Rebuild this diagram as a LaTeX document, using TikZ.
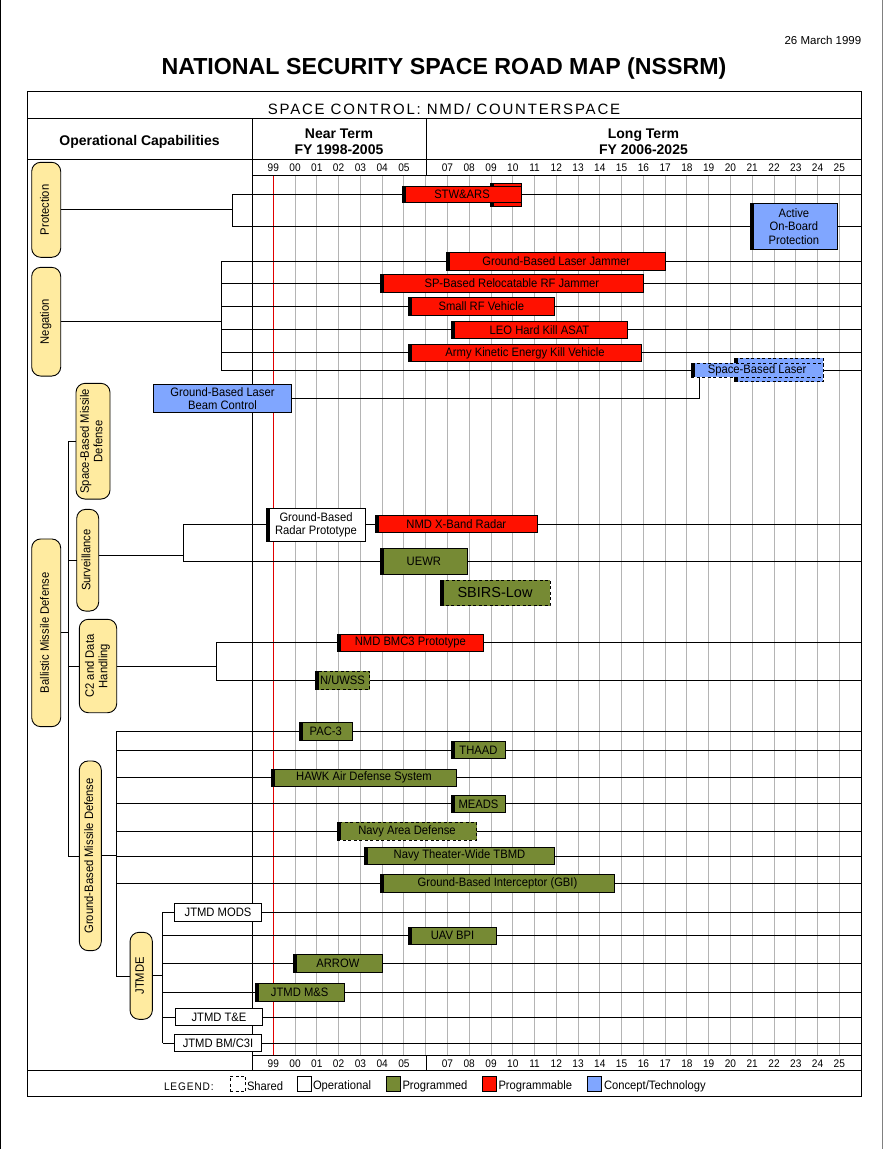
\documentclass[tikz,border=0pt]{standalone}
\usepackage{fontspec}
\usepackage{graphicx}
\setmainfont{Liberation Sans}
\newfontfamily\bodyfont{Liberation Sans}[FakeStretch=0.92]
\definecolor{pillY}{RGB}{255,235,160}
\definecolor{progR}{RGB}{255,17,0}
\definecolor{progG}{RGB}{118,138,52}
\definecolor{conB}{RGB}{128,166,255}
\definecolor{gridG}{RGB}{180,180,180}
\definecolor{nowR}{RGB}{225,0,0}
\newcommand\tb[7]{\node[#6, minimum width={(#4-#2)*1pt}, minimum height={(#5-#3)*1pt}] (#1) at ({(#2+#4)/2},{(#3+#5)/2}) {#7};}
\newcommand\mk[1]{\fill (#1.north west) rectangle ([xshift=3.6pt]#1.south west);}
\newcommand\rt[1]{\rotatebox{90}{\begin{tabular}{@{}c@{}}#1\end{tabular}}}
\tikzset{
  every node/.style={font=\bodyfont\fontsize{12.2}{13.5}\selectfont, inner sep=0pt, outer sep=0pt},
  box/.style={draw=black, line width=1pt, align=center},
  rbox/.style={box, fill=progR},
  gbox/.style={box, fill=progG},
  bbox/.style={box, fill=conB},
  wbox/.style={box, fill=white},
  shared/.style={dash pattern=on 3pt off 2.5pt},
  pill/.style={draw=black, line width=0.9pt, fill=pillY, rounded corners=9pt},
  yr/.style={font=\bodyfont\fontsize{11}{12}\selectfont},
  hdr/.style={font=\normalfont\bfseries\fontsize{14}{16}\selectfont, align=center},
}
\begin{document}
\begin{tikzpicture}[x=1pt, y=-1pt, line width=0.9pt]
\useasboundingbox (0,0) rectangle (888,1149);
% page edges
\draw[line width=1.2pt] (0.6,0) -- (0.6,1149);
\draw[gray, line width=1.2pt] (882.5,0) -- (882.5,1149);
% title
\node[font=\normalfont\bfseries\fontsize{23.2}{26}\selectfont] (title) at (444,68) {NATIONAL SECURITY SPACE ROAD MAP (NSSRM)};
\node[anchor=east, font=\normalfont\fontsize{11.5}{13}\selectfont] (date) at (861.3,40) {26 March 1999};
% grid
\foreach \k in {1,...,26} {\draw[gridG] ({273.3+21.77*\k},175.3) -- ({273.3+21.77*\k},1055);}
\draw[nowR] (273.3,175.3) -- (273.3,1055);
% frame and header
\draw (27,91) rectangle (861.3,1096);
\draw (27,118) -- (861.3,118);
\draw (27,159.3) -- (861.3,159.3);
\draw (27,1070.3) -- (861.3,1070.3);
\draw (252,118) -- (252,1070.3);
\draw (426,118) -- (426,175.3);
\draw (426,1055) -- (426,1070.3);
\draw (252,175.3) -- (861.3,175.3);
\draw (252,1055) -- (861.3,1055);
\node[font=\normalfont\fontsize{15}{17}\selectfont] (sc) at (444,108.7) {\addfontfeature{LetterSpace=12}SPACE CONTROL: NMD/ COUNTERSPACE};
\node[hdr] (oc) at (139.5,141.7) {Operational Capabilities};
\node[hdr] (nt) at (339,142) {Near Term\\FY 1998-2005};
\node[hdr] (lt) at (643.5,142) {Long Term\\FY 2006-2025};
\foreach \k/\lab in {0/99,1/00,2/01,3/02,4/03,5/04,6/05,8/07,9/08,10/09,11/10,12/11,13/12,14/13,15/14,16/15,17/16,18/17,19/18,20/19,21/20,22/21,23/22,24/23,25/24,26/25} {
  \node[yr] at ({273.3+21.77*\k},167.8) {\lab};
  \node[yr] at ({273.3+21.77*\k},1063.5) {\lab};
}
\coordinate (Rt) at (861.3,0);
% pills
\node[pill, minimum width=29pt, minimum height=95pt] (pP) at (46.2,209.8) {\rt{Protection}};
\node[pill, minimum width=29pt, minimum height=108.7pt] (pN) at (46.2,321.7) {\rt{Negation}};
\node[pill, minimum width=29pt, minimum height=187.7pt] (pB) at (46.2,632.8) {\rt{Ballistic Missile Defense}};
\node[pill, minimum width=34pt, minimum height=115.7pt] (pSB) at (93,441.2) {\rt{Space-Based Missile\\Defense}};
\node[pill, minimum width=22pt, minimum height=101.7pt] (pS) at (87.7,560.2) {\rt{Surveillance}};
\node[pill, minimum width=37.4pt, minimum height=93.4pt] (pC) at (98,666) {\rt{C2 and Data\\Handling}};
\node[pill, minimum width=22pt, minimum height=189.7pt] (pG) at (90.3,855.8) {\rt{Ground-Based Missile Defense}};
\node[pill, minimum width=22.3pt, minimum height=87pt] (pJ) at (141.2,975.8) {\rt{JTMDE}};
% junction coordinates
\coordinate (jP1) at (232.3,194.3); \coordinate (jP2) at (232.3,226);
\foreach \i/\y in {1/261.3,2/283.3,3/306.3,4/329.3,5/352.3,6/370} {\coordinate (jN\i) at (221.3,\y);}
\coordinate (jB0) at (68.3,441); \coordinate (jB1) at (68.3,560.3); \coordinate (jB2) at (68.3,666); \coordinate (jB4) at (68.3,856);
\coordinate (jS1) at (183.3,524.3); \coordinate (jS2) at (183.3,561);
\coordinate (jC1) at (216.3,642.3); \coordinate (jC2) at (216.3,680.3);
\foreach \i/\y in {1/731.3,2/750.3,3/777.3,4/803.3,5/831.3,6/856,7/883.3,8/976.7} {\coordinate (jG\i) at (116.3,\y);}
\foreach \i/\y in {1/912.3,2/935,3/963,4/992.3,5/1017.3,6/1043.3} {\coordinate (jJ\i) at (162.7,\y);}
% connectors
\draw (pP.east) -- (pP.east -| jP1);
\draw (jP1) -- (jP2);
\draw (jP1) -- (jP1 -| Rt);
\draw (jP2) -- (jP2 -| Rt);
\draw (pN.east) -- (pN.east -| jN1);
\draw (jN1) -- (jN6);
\foreach \i in {1,...,6} {\draw (jN\i) -- (jN\i -| Rt);}
\draw (pB.east) -- (pB.east -| jB0);
\draw (jB0) -- (jB4);
\draw (jB0) -- (jB0 -| pSB.west);
\draw (jB1) -- (jB1 -| pS.west);
\draw (jB2) -- (jB2 -| pC.west);
\draw (jB4) -- (jB4 -| pG.west);
\draw ([yshift=4.9pt]pS.east) -- ([yshift=4.9pt]pS.east -| jS1);
\draw (jS1) -- (jS2);
\draw (jS1) -- (jS1 -| Rt);
\draw (jS2) -- (jS2 -| Rt);
\draw (pC.east) -- (pC.east -| jC1);
\draw (jC1) -- (jC2);
\draw (jC1) -- (jC1 -| Rt);
\draw (jC2) -- (jC2 -| Rt);
\draw (pG.east) -- (pG.east -| jG1);
\draw (jG1) -- (jG8);
\foreach \i in {1,...,7} {\draw (jG\i) -- (jG\i -| Rt);}
\draw (jG8) -- (jG8 -| pJ.west);
\draw (pJ.east) -- (pJ.east -| jJ1);
\draw (jJ1) -- (jJ6);
\foreach \i in {1,...,6} {\draw (jJ\i) -- (jJ\i -| Rt);}
% Protection
\tb{stwB}{490}{183.3}{521.7}{206}{rbox}{} \mk{stwB}
\tb{stwA}{402.3}{186.7}{521.7}{202.3}{rbox}{STW\&ARS} \mk{stwA}
\tb{aobp}{750}{203.3}{837.7}{249.3}{bbox}{Active\\On-Board\\Protection} \mk{aobp}
% Negation
\tb{gblj}{446.7}{252}{665.7}{270}{rbox}{Ground-Based Laser Jammer} \mk{gblj}
\tb{sprf}{380}{274.3}{643.7}{292.7}{rbox}{SP-Based Relocatable RF Jammer} \mk{sprf}
\tb{srfv}{408.3}{297}{554.3}{315.3}{rbox}{Small RF Vehicle} \mk{srfv}
\tb{leo}{451.3}{321}{627.7}{338.3}{rbox}{LEO Hard Kill ASAT} \mk{leo}
\tb{akek}{408.3}{344}{641.7}{361.7}{rbox}{Army Kinetic Energy Kill Vehicle} \mk{akek}
\tb{sblB}{734.3}{358.3}{823.3}{381.7}{bbox,shared}{} \mk{sblB}
\tb{gblbc}{153.3}{384.3}{291.7}{412.7}{bbox}{Ground-Based Laser\\Beam Control}
\tb{sblA}{691}{363.3}{823.3}{377.3}{bbox,shared}{Space-Based Laser} \mk{sblA}
\draw (gblbc.east) -| ([xshift=8.7pt]sblA.south west);
% Surveillance
\tb{gbrp}{266.7}{508.3}{365.3}{541.7}{wbox}{Ground-Based\\Radar Prototype} \mk{gbrp}
\tb{xbr}{375}{515}{537.7}{532.3}{rbox}{NMD X-Band Radar} \mk{xbr}
\tb{uewr}{380}{548.3}{467.7}{574.7}{gbox}{UEWR} \mk{uewr}
\tb{sbirs}{440}{580}{550}{605.7}{gbox,shared,font=\normalfont\fontsize{14.5}{16}\selectfont}{SBIRS-Low} \mk{sbirs}
% C2
\tb{bmc3}{337}{634}{483.7}{651.7}{rbox}{NMD BMC3 Prototype} \mk{bmc3}
\tb{nuwss}{315.3}{671}{369.7}{689.7}{gbox,shared}{N/UWSS} \mk{nuwss}
% Ground-based
\tb{pac3}{299.3}{722.3}{352.3}{740.7}{gbox}{PAC-3} \mk{pac3}
\tb{thaad}{451.3}{741.7}{505.7}{758.3}{gbox}{THAAD} \mk{thaad}
\tb{hawk}{271.3}{769.3}{456.7}{786.3}{gbox}{HAWK Air Defense System} \mk{hawk}
\tb{meads}{451.3}{795.3}{505.7}{812.3}{gbox}{MEADS} \mk{meads}
\tb{nad}{337.3}{822.3}{476.7}{840}{gbox,shared}{Navy Area Defense} \mk{nad}
\tb{ntw}{364.3}{847.3}{554.7}{864.3}{gbox}{Navy Theater-Wide TBMD} \mk{ntw}
\tb{gbi}{380.3}{874}{614.7}{892.3}{gbox}{Ground-Based Interceptor (GBI)} \mk{gbi}
% JTMDE
\tb{mods}{174.3}{903.3}{261.7}{921.7}{wbox}{JTMD MODS}
\tb{uav}{408.3}{927.3}{496.7}{944.3}{gbox}{UAV BPI} \mk{uav}
\tb{arrow}{293}{954.3}{382.7}{972.3}{gbox}{ARROW} \mk{arrow}
\tb{ms}{255}{983.7}{344.3}{1001.3}{gbox}{JTMD M\&S} \mk{ms}
\tb{te}{175.3}{1008.3}{262.7}{1025.7}{wbox}{JTMD T\&E}
\tb{c3i}{174.3}{1034.3}{261.7}{1051.7}{wbox}{JTMD BM/C3I}
% legend
\node[anchor=west, font=\bodyfont\fontsize{11}{12}\selectfont] (lg) at (164,1086.5) {\addfontfeature{LetterSpace=8}LEGEND:};
\tb{lgS}{230}{1076}{245.7}{1091.7}{wbox,shared}{}
\node[anchor=west] (lgSt) at (247,1086.5) {Shared};
\tb{lgO}{297.3}{1076}{311.3}{1091.7}{wbox}{}
\node[anchor=west] (lgOt) at (313,1086.5) {Operational};
\tb{lgG}{386.7}{1076}{400.3}{1091.7}{gbox}{}
\node[anchor=west] (lgGt) at (402.5,1086.5) {Programmed};
\tb{lgR}{482.3}{1076}{496.7}{1091.7}{rbox}{}
\node[anchor=west] (lgRt) at (498.5,1086.5) {Programmable};
\tb{lgB}{587.3}{1076}{601.3}{1091.7}{bbox}{}
\node[anchor=west] (lgBt) at (604,1086.5) {Concept/Technology};
\end{tikzpicture}
\end{document}
